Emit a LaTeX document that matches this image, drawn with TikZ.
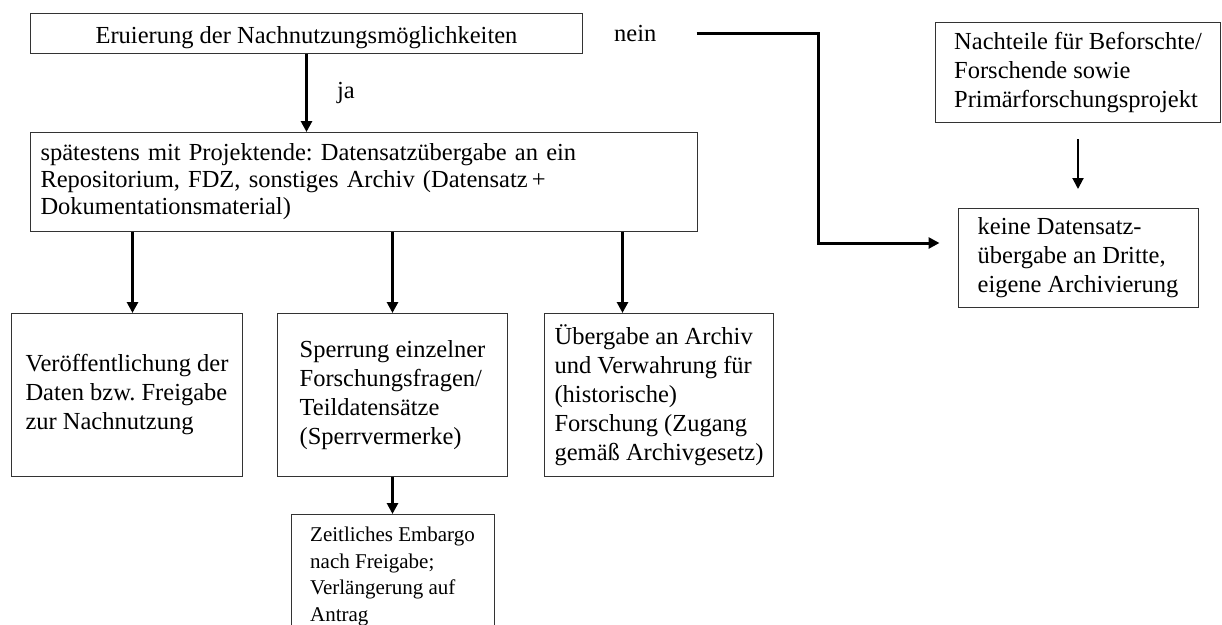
\documentclass[tikz,border=0pt]{standalone}
\usepackage{fontspec}
\setmainfont{Liberation Serif}
\usetikzlibrary{positioning,arrows.meta}
\frenchspacing

\tikzstyle{kasten} = [rectangle, draw=black!80, line width=1pt, inner sep=0pt, align=left, font=\fontsize{24.5}{29}\selectfont]
\tikzstyle{pfeil}  = [line width=3pt, -{Triangle[length=11pt, width=11pt]}]
\tikzstyle{marke}  = [inner sep=0pt, font=\fontsize{24.5}{29}\selectfont]

\begin{document}
\begin{tikzpicture}[x=1pt, y=-1pt]
        \useasboundingbox (0,0) rectangle (1222,624);
        \node (eval)      [kasten, anchor=north west, minimum width=552pt, minimum height=40pt, align=center, text height=21pt, text depth=1pt] at (30,13) {Eruierung der Nachnutzungsmöglichkeiten};
        \node (nein)      [marke, right=31pt of eval]                        {nein};
        \node (ablage)    [kasten, below=78pt of eval.south west, anchor=north west, text width=647pt, inner xsep=10pt, minimum height=99pt, font=\fontsize{24.5}{27}\selectfont]
                          {spätestens mit Projektende: Datensatzübergabe an ein\\ Repositorium, FDZ, sonstiges Archiv (Datensatz\,+\\ Dokumentationsmaterial)};
        \node (pub)       [kasten, below=81pt of ablage.south west, anchor=north west, xshift=-19pt, minimum width=231pt, minimum height=163pt]
                          {Veröffentlichung der\\ Daten bzw. Freigabe\\ zur Nachnutzung};
        \node (sperr)     [kasten, right=34pt of pub, minimum width=230pt, minimum height=163pt]
                          {Sperrung einzelner\\ Forschungsfragen/\\ Teildatensätze\\ (Sperrvermerke)};
        \node (archiv)    [kasten, right=36pt of sperr, minimum width=229pt, minimum height=163pt]
                          {Übergabe an Archiv\\ und Verwahrung für\\ (historische)\\ Forschung (Zugang\\ gemäß Archivgesetz)};
        \node (embargo)   [kasten, below=37pt of sperr, minimum width=203pt, minimum height=124pt, font=\fontsize{21}{26.7}\selectfont]
                          {Zeitliches Embargo\\ nach Freigabe;\\ Verlängerung auf\\ Antrag};
        \node (nachteile) [kasten, anchor=north east, minimum width=285pt, minimum height=100pt] at (1221,22)
                          {Nachteile für Beforschte/\\ Forschende sowie\\ Primärforschungsprojekt};
        \node (keine)     [kasten, below=85pt of nachteile, minimum width=240pt, minimum height=99pt]
                          {keine Datensatz-\\ übergabe an Dritte,\\ eigene Archivierung};
        \coordinate (zu1)   at ([xshift=5.5pt]pub.north);
        \coordinate (zu3)   at ([xshift=-36.5pt]archiv.north);
        \coordinate (knick) at (818,243);
        \draw[pfeil] (eval.south)   -- node[marke, right=29pt] {ja} (eval.south |- ablage.north);
        \draw[pfeil] (ablage.south -| zu1)          -- (zu1);
        \draw[pfeil] (ablage.south -| sperr.north)  -- (sperr.north);
        \draw[pfeil] (ablage.south -| zu3)          -- (zu3);
        \draw[pfeil] (sperr.south)  -- (sperr.south |- embargo.north);
        \draw[pfeil, shorten <=40pt, shorten >=18pt] (nein.east) -| (knick) -- (knick -| keine.west);
        \draw[pfeil, line width=2pt, shorten <=16pt, shorten >=19pt] (nachteile.south) -- (nachteile.south |- keine.north);
\end{tikzpicture}
\end{document}
